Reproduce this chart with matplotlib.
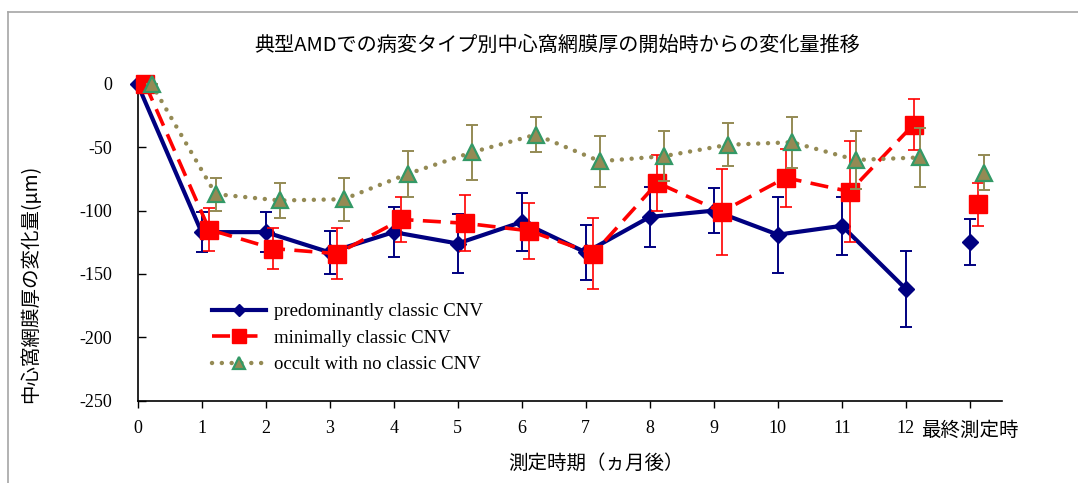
import matplotlib
matplotlib.use('Agg')
import matplotlib.pyplot as plt
from matplotlib.lines import Line2D
import numpy as np

# ---------- DATA ----------
months = [0, 1, 2, 3, 4, 5, 6, 7, 8, 9, 10, 11, 12]
final_pos = 13
x_labels = ["0", "1", "2", "3", "4", "5", "6", "7", "8", "9", "10", "11", "12", "最終測定時"]

pred_mean = [0, -117, -117, -133, -117, -126, -109, -133, -105, -100, -119, -112, -162]
pred_err = [0, 16, 16, 17, 20, 23, 23, 22, 24, 18, 30, 23, 30]
pred_final = -125
pred_final_err = 18

mini_mean = [0, -115, -130, -134, -107, -110, -116, -134, -78, -101, -74, -85, -32]
mini_err = [0, 17, 16, 20, 18, 22, 22, 28, 22, 34, 23, 40, 20]
mini_final = -95
mini_final_err = 17

occ_mean = [0, -87, -92, -91, -71, -54, -40, -61, -57, -48, -46, -60, -58]
occ_err = [0, 13, 14, 17, 18, 22, 14, 20, 20, 17, 20, 23, 23]
occ_final = -70
occ_final_err = 14

names = ["predominantly classic CNV", "minimally classic CNV", "occult with no classic CNV"]

# ---------- STYLE ----------
CJK = ['Noto Sans CJK JP', 'DejaVu Sans']
SERIF = ['Liberation Serif', 'DejaVu Serif']
navy = '#000080'
red = '#ff0000'
olive = '#948a54'
tri_edge = '#339966'

fig = plt.figure(figsize=(10.78, 4.83), dpi=100)
ax = fig.add_axes([137.5 / 1078, 1 - 400.5 / 483, (1002 - 137.5) / 1078, (400.5 - 84) / 483])

# gray chart-area frame (top and left edges only visible)
fig.add_artist(Line2D([8 / 1078, 1], [1 - 12 / 483, 1 - 12 / 483], color='#a6a6a6', lw=1.2))
fig.add_artist(Line2D([8 / 1078, 8 / 1078], [0, 1 - 12 / 483], color='#a6a6a6', lw=1.2))

series = [
    (pred_mean, pred_err, pred_final, pred_final_err, 0.0,
     dict(color=navy, lw=3, ls='-', marker='D', ms=8, mfc=navy, mec=navy), navy, 1.4),
    (mini_mean, mini_err, mini_final, mini_final_err, 0.12,
     dict(color=red, lw=2.6, ls=(0, (5, 2.6)), marker='s', ms=12.5, mfc=red, mec=red), red, 1.2),
    (occ_mean, occ_err, occ_final, occ_final_err, 0.22,
     dict(color=olive, lw=3.2, ls=(0, (0.01, 2.2)), dash_capstyle='round', marker='^', ms=11,
          mfc=olive, mec=tri_edge, mew=1.6), olive, 1.4),
]

handles = []
for i, (mean, err, fin, fin_err, off, style, ecol, elw) in enumerate(series):
    xs = np.array(months) + off
    z = 3 + i
    ax.errorbar(xs, mean, yerr=err, fmt='none', ecolor=ecol, elinewidth=elw,
                capsize=4.5, capthick=elw, zorder=z, clip_on=False)
    ax.errorbar([final_pos + off], [fin], yerr=[fin_err], fmt='none', ecolor=ecol,
                elinewidth=elw, capsize=4.5, capthick=elw, zorder=z, clip_on=False)
    h, = ax.plot(xs, mean, zorder=z, clip_on=False, label=names[i], **style)
    st = dict(style)
    st['ls'] = 'none'
    ax.plot([final_pos + off], [fin], zorder=z, clip_on=False, **st)
    handles.append(h)

# ---------- AXES ----------
ax.set_xlim(0, 13.5)
ax.set_ylim(-250, 0)
ax.set_yticks([0, -50, -100, -150, -200, -250])
ax.set_yticklabels(["0", "-50", "-100", "-150", "-200", "-250"], family=SERIF, fontsize=13)
ax.set_xticks(range(14))
ax.set_xticklabels(x_labels, fontsize=13)
for i, lab in enumerate(ax.get_xticklabels()):
    lab.set_family(CJK if i == 13 else SERIF)
    if i == 13:
        lab.set_fontsize(14)
ax.tick_params(axis='y', direction='in', length=6, pad=18, width=1)
ax.tick_params(axis='x', direction='out', length=5, pad=9, width=1)
for s in ['top', 'right']:
    ax.spines[s].set_visible(False)
for s in ['left', 'bottom']:
    ax.spines[s].set_linewidth(1.2)

fig.text(557 / 1078, 1 - 45 / 483, "典型AMDでの病変タイプ別中心窩網膜厚の開始時からの変化量推移",
         family=CJK, fontsize=14.5, ha='center', va='center')
fig.text(31 / 1078, 1 - 284 / 483, "中心窩網膜厚の変化量(μm)", family=CJK, fontsize=14,
         rotation=90, ha='center', va='center')
fig.text(596 / 1078, 1 - 463 / 483, "測定時期（ヵ月後）", family=CJK, fontsize=14,
         ha='center', va='center')

leg = ax.legend(handles=handles, loc='upper left', bbox_to_anchor=(0.075, 0.337),
                frameon=False, prop={'family': SERIF, 'size': 13.5}, handlelength=2.9,
                labelspacing=0.5, handletextpad=0.4, borderpad=0, markerscale=0.8)

fig.savefig('out.png', dpi=100)
